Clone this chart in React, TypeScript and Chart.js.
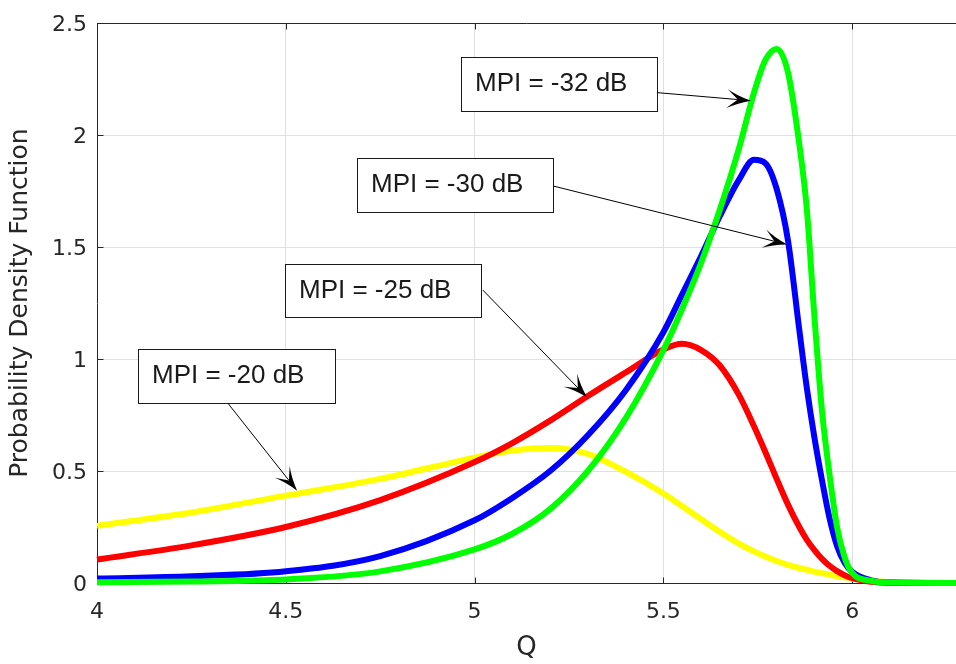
import React, { useEffect, useRef } from "react";
import { Chart, registerables } from "chart.js";

Chart.register(...registerables);

// Q axis samples shared by all curves
const qValues = [4.0, 4.25, 4.5, 4.75, 5.0, 5.1, 5.2, 5.3, 5.4, 5.5, 5.55, 5.6, 5.65, 5.7, 5.74, 5.77, 5.8, 5.83, 5.86, 5.88, 5.9, 5.92, 5.94, 5.96, 5.98, 6.0, 6.05, 6.1, 6.275];

const pdfMpiMinus20 = [0.255, 0.315, 0.39, 0.465, 0.56, 0.592, 0.603, 0.577, 0.497, 0.4, 0.343, 0.285, 0.228, 0.176, 0.141, 0.118, 0.098, 0.081, 0.067, 0.059, 0.051, 0.044, 0.037, 0.031, 0.025, 0.02, 0.01, 0.003, 0];
const pdfMpiMinus25 = [0.105, 0.168, 0.25, 0.37, 0.54, 0.625, 0.725, 0.835, 0.94, 1.043, 1.068, 1.04, 0.97, 0.84, 0.7, 0.585, 0.465, 0.35, 0.25, 0.193, 0.147, 0.108, 0.077, 0.053, 0.035, 0.022, 0.006, 0.001, 0];
const pdfMpiMinus30 = [0.02, 0.03, 0.052, 0.12, 0.28, 0.38, 0.5, 0.66, 0.86, 1.12, 1.29, 1.46, 1.64, 1.8, 1.89, 1.875, 1.76, 1.53, 1.13, 0.87, 0.65, 0.46, 0.29, 0.165, 0.09, 0.05, 0.012, 0.002, 0];
const pdfMpiMinus32 = [0.003, 0.007, 0.016, 0.052, 0.15, 0.22, 0.33, 0.5, 0.735, 1.04, 1.225, 1.43, 1.67, 1.94, 2.19, 2.335, 2.385, 2.28, 1.96, 1.668, 1.19, 0.77, 0.485, 0.25, 0.115, 0.045, 0.01, 0.002, 0];

const seriesLabels = ["MPI = -20 dB", "MPI = -25 dB", "MPI = -30 dB", "MPI = -32 dB"];
const seriesColors = ["#ffff00", "#ff0000", "#0000ff", "#00ff00"];

const xAxisMin = 4;
const xAxisMax = 6.275;
const yAxisMin = 0;
const yAxisMax = 2.5;
const tickStep = 0.5;

const xTitle = "Q";
const yTitle = "Probability Density Function";

// Text-box annotations in data coordinates: [left, top, right, bottom], arrow tail and head
const annotationTexts = ["MPI = -32 dB", "MPI = -30 dB", "MPI = -25 dB", "MPI = -20 dB"];
const annotationBoxes = [
  [4.964, 2.349, 5.483, 2.11],
  [4.689, 1.897, 5.208, 1.658],
  [4.498, 1.423, 5.017, 1.188],
  [4.109, 1.046, 4.63, 0.802],
];
const annotationTails = [
  [5.483, 2.19],
  [5.208, 1.773],
  [5.022, 1.308],
  [4.347, 0.802],
];
const annotationHeads = [
  [5.732, 2.154],
  [5.828, 1.512],
  [5.298, 0.829],
  [4.53, 0.412],
];

const TEXT_COLOR = "#262626";
const AXIS_COLOR = "#262626";

const axisDecorPlugin = {
  id: "axisDecor",
  beforeDatasetsDraw(chart: any) {
    const { ctx, chartArea } = chart;
    const xs = chart.scales.x;
    const ys = chart.scales.y;
    ctx.save();
    ctx.strokeStyle = AXIS_COLOR;
    ctx.lineWidth = 1;
    const top = Math.round(chartArea.top) + 0.5;
    const bottom = Math.round(chartArea.bottom) + 0.5;
    const left = Math.round(chartArea.left) + 0.5;
    ctx.beginPath();
    ctx.moveTo(chartArea.left, top);
    ctx.lineTo(chartArea.right, top);
    const tl = 6;
    xs.ticks.forEach((t: any) => {
      const px = Math.round(xs.getPixelForValue(t.value)) + 0.5;
      ctx.moveTo(px, bottom);
      ctx.lineTo(px, bottom - tl);
      ctx.moveTo(px, top);
      ctx.lineTo(px, top + tl);
    });
    ys.ticks.forEach((t: any) => {
      const py = Math.round(ys.getPixelForValue(t.value)) + 0.5;
      ctx.moveTo(left, py);
      ctx.lineTo(left + tl, py);
    });
    ctx.stroke();
    ctx.restore();
  },
};

const annotationPlugin = {
  id: "textArrows",
  afterDatasetsDraw(chart: any) {
    const { ctx } = chart;
    const xs = chart.scales.x;
    const ys = chart.scales.y;
    ctx.save();
    annotationTexts.forEach((text, i) => {
      const [bl, bt, br, bb] = annotationBoxes[i];
      const l = Math.round(xs.getPixelForValue(bl));
      const t = Math.round(ys.getPixelForValue(bt));
      const r = Math.round(xs.getPixelForValue(br));
      const b = Math.round(ys.getPixelForValue(bb));
      ctx.fillStyle = "#ffffff";
      ctx.fillRect(l, t, r - l, b - t);
      ctx.strokeStyle = "#1a1a1a";
      ctx.lineWidth = 1;
      ctx.strokeRect(l + 0.5, t + 0.5, r - l, b - t);
      ctx.fillStyle = "#1a1a1a";
      ctx.font = '26px "Liberation Sans", Arial, sans-serif';
      ctx.textAlign = "left";
      ctx.textBaseline = "middle";
      ctx.fillText(text, l + 14, (t + b) / 2);

      const tx = xs.getPixelForValue(annotationTails[i][0]);
      const ty = ys.getPixelForValue(annotationTails[i][1]);
      const hx = xs.getPixelForValue(annotationHeads[i][0]);
      const hy = ys.getPixelForValue(annotationHeads[i][1]);
      const dx = hx - tx;
      const dy = hy - ty;
      const len = Math.hypot(dx, dy);
      const ux = dx / len;
      const uy = dy / len;
      const nx = -uy;
      const ny = ux;
      const L = 24;
      const W = 19;
      const notch = 0.55 * L;
      ctx.strokeStyle = "#000000";
      ctx.lineWidth = 1;
      ctx.beginPath();
      ctx.moveTo(tx, ty);
      ctx.lineTo(hx - ux * notch, hy - uy * notch);
      ctx.stroke();
      ctx.fillStyle = "#000000";
      ctx.beginPath();
      ctx.moveTo(hx, hy);
      ctx.quadraticCurveTo(
        hx - ux * L * 0.6 + nx * W * 0.2,
        hy - uy * L * 0.6 + ny * W * 0.2,
        hx - ux * L + nx * (W / 2),
        hy - uy * L + ny * (W / 2)
      );
      ctx.lineTo(hx - ux * notch, hy - uy * notch);
      ctx.lineTo(hx - ux * L - nx * (W / 2), hy - uy * L - ny * (W / 2));
      ctx.quadraticCurveTo(
        hx - ux * L * 0.6 - nx * W * 0.2,
        hy - uy * L * 0.6 - ny * W * 0.2,
        hx,
        hy
      );
      ctx.closePath();
      ctx.fill();
    });
    ctx.restore();
  },
};

const formatTick = (value: any) => String(Number(value));

export default function App() {
  const canvasRef = useRef<HTMLCanvasElement | null>(null);

  useEffect(() => {
    const canvas = canvasRef.current;
    if (!canvas) return;
    const seriesValues = [pdfMpiMinus20, pdfMpiMinus25, pdfMpiMinus30, pdfMpiMinus32];
    // later series drawn on top: Chart.js draws lower "order" on top
    const datasets = seriesValues.map((vals, i) => ({
      label: seriesLabels[i],
      data: qValues.map((q, j) => ({ x: q, y: vals[j] })),
      borderColor: seriesColors[i],
      backgroundColor: seriesColors[i],
      borderWidth: 6,
      pointRadius: 0,
      pointHoverRadius: 0,
      fill: false,
      cubicInterpolationMode: "monotone" as const,
      borderJoinStyle: "round" as const,
      clip: 8,
      order: seriesValues.length - i,
    }));

    const chart = new Chart(canvas, {
      type: "line",
      data: { datasets },
      plugins: [axisDecorPlugin, annotationPlugin],
      options: {
        responsive: false,
        animation: false,
        devicePixelRatio: 1,
        layout: { padding: { top: 19, right: 0, bottom: 0, left: 0 } },
        plugins: {
          legend: { display: false },
          tooltip: { enabled: false },
        },
        events: [],
        scales: {
          x: {
            type: "linear",
            min: xAxisMin,
            max: xAxisMax,
            afterFit(scale: any) {
              scale.height = 81;
            },
            ticks: {
              stepSize: tickStep,
              includeBounds: false,
              color: TEXT_COLOR,
              padding: 16,
              maxRotation: 0,
              callback: formatTick,
              font: { family: '"DejaVu Sans", sans-serif', size: 22 },
            },
            grid: { color: "#e0e0e0", lineWidth: 1, drawTicks: false },
            border: { display: true, color: AXIS_COLOR, width: 1 },
            title: {
              display: true,
              text: xTitle,
              color: TEXT_COLOR,
              padding: { top: 0, bottom: 0 },
              font: { family: '"DejaVu Sans", sans-serif', size: 26 },
            },
          },
          y: {
            type: "linear",
            min: yAxisMin,
            max: yAxisMax,
            afterFit(scale: any) {
              scale.width = 97;
            },
            ticks: {
              stepSize: tickStep,
              color: TEXT_COLOR,
              padding: 10,
              labelOffset: 2,
              callback: formatTick,
              font: { family: '"DejaVu Sans", sans-serif', size: 22 },
            },
            grid: { color: "#e0e0e0", lineWidth: 1, drawTicks: false },
            border: { display: true, color: AXIS_COLOR, width: 1 },
            title: {
              display: true,
              text: yTitle,
              color: TEXT_COLOR,
              padding: { top: 5, bottom: 0 },
              font: { family: '"DejaVu Sans", sans-serif', size: 25 },
            },
          },
        },
      },
    });
    return () => chart.destroy();
  }, []);

  return (
    <div style={{ position: "fixed", left: 0, top: 0, width: 956, height: 664, background: "#ffffff" }}>
      <canvas ref={canvasRef} width={956} height={664} style={{ display: "block", width: 956, height: 664 }} />
    </div>
  );
}
